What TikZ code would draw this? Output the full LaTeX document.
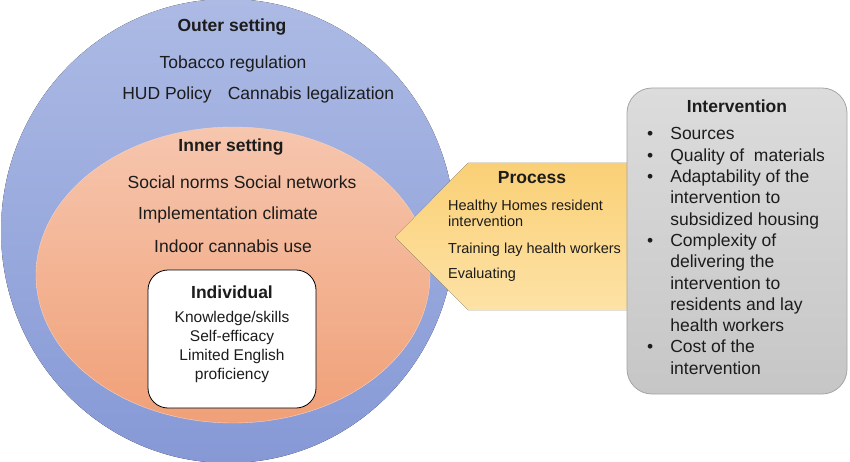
\documentclass[tikz,border=0pt]{standalone}
\usepackage{fontspec}
\setmainfont{Liberation Sans}
\usepackage{xcolor}
\usetikzlibrary{positioning}
\definecolor{outertop}{RGB}{172,186,228}
\definecolor{outerbot}{RGB}{134,153,214}
\definecolor{innertop}{RGB}{246,198,174}
\definecolor{innerbot}{RGB}{240,160,120}
\definecolor{innerline}{RGB}{249,210,190}
\definecolor{proctop}{RGB}{250,208,118}
\definecolor{procbot}{RGB}{253,226,166}
\definecolor{intvtop}{RGB}{220,220,220}
\definecolor{intvbot}{RGB}{198,198,198}
\definecolor{intvline}{RGB}{165,165,165}
\definecolor{ink}{RGB}{28,28,28}

\begin{document}
\begin{tikzpicture}[x=1pt,y=-1pt,
  head/.style={font=\bfseries\fontsize{17.5}{20}\selectfont, text=ink, inner sep=0pt},
  factor/.style={font=\fontsize{17.5}{20}\selectfont, text=ink, inner sep=0pt},
  indiv/.style={font=\fontsize{15.5}{19}\selectfont, text=ink, inner sep=0pt, align=center},
  proc/.style={font=\fontsize{14.5}{16}\selectfont, text=ink, inner sep=0pt, align=left}]
% Frame
\useasboundingbox (0,0) rectangle (850,462);
\clip (0,0) rectangle (850,462);
% Outer setting
\fill[top color=outertop, bottom color=outerbot] (228,231) ellipse [x radius=227, y radius=232];
% Inner setting
\draw[innerline, thin, top color=innertop, bottom color=innerbot] (233,275) ellipse [x radius=197, y radius=148];
% Individual
\draw[black, line width=0.8pt, fill=white, rounded corners=20pt] (148,270) rectangle (316,408);
% Process arrow
\fill[top color=proctop, bottom color=procbot] (395,237) -- (468,163) -- (630,163) -- (630,310) -- (468,310) -- cycle;
% Intervention box
\draw[intvline, line width=0.8pt, top color=intvtop, bottom color=intvbot, rounded corners=25pt] (627,88) rectangle (847,394);

% Outer setting labels
\node[head] (outer) at (232,27) {Outer setting};
\node[factor] (tobacco) at (233,64) {Tobacco regulation};
\node[factor] (hud) at (167,95) {HUD Policy};
\node[factor] (legal) at (311,95) {Cannabis legalization};
% Inner setting labels
\node[head] (inner) at (231,147) {Inner setting};
\node[factor] (norms) at (242,182) {Social norms\hspace{5pt}Social networks};
\node[factor] (climate) at (228,215) {Implementation climate};
\node[factor] (indoor) at (233,246) {Indoor cannabis use};
% Individual labels
\node[head] (indivhead) at (232,292) {Individual};
\node[indiv, anchor=north] (indivlist) at (232,311) {Knowledge/skills\\Self-efficacy\\Limited English\\proficiency};
% Process labels
\node[head] (prochead) at (532,178) {Process};
\node[proc, anchor=north west] (resident) at (448,200) {Healthy Homes resident\\intervention};
\node[proc, anchor=west] (training) at (448,250) {Training lay health workers};
\node[proc, anchor=west] (evaluate) at (448,275) {Evaluating};
% Intervention labels
\node[head] (intvhead) at (737,106) {Intervention};
\node[factor, anchor=base west, font=\fontsize{17.5}{21.3}\selectfont] (intvlist) at (647,140) {%
  \begin{tabular}[t]{@{}l@{\hspace{17pt}}l@{}}
  \textbullet & Sources\\
  \textbullet & Quality of\ \ materials\\
  \textbullet & Adaptability of the\\
   & intervention to\\
   & subsidized housing\\
  \textbullet & Complexity of\\
   & delivering the\\
   & intervention to\\
   & residents and lay\\
   & health workers\\
  \textbullet & Cost of the\\
   & intervention
  \end{tabular}};
\end{tikzpicture}
\end{document}
